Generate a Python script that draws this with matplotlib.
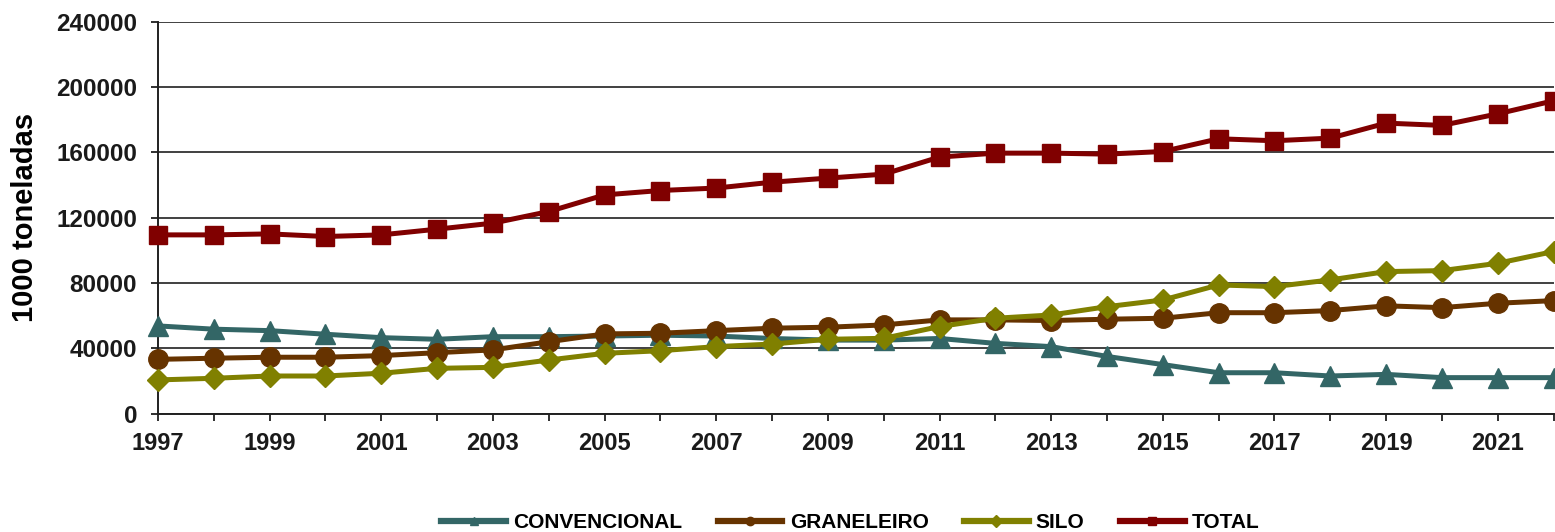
import matplotlib
matplotlib.use("Agg")
import matplotlib.pyplot as plt
from matplotlib.lines import Line2D

plt.rcParams['font.family'] = ['Liberation Sans', 'DejaVu Sans']
plt.rcParams['font.weight'] = 'bold'

anos = list(range(1997, 2023))

convencional = [53700, 51700, 50800, 48600, 46500, 45500, 47100, 47100, 47500, 48000,
                47500, 46000, 45000, 45000, 46000, 43000, 41000, 35000, 30000, 25000,
                25000, 23000, 24000, 22000, 22000, 22000]
graneleiro = [33200, 33900, 34500, 34500, 35500, 37300, 39000, 44000, 48800, 49200,
              50800, 52300, 52900, 54300, 57400, 57400, 57000, 57800, 58400, 61800,
              61800, 63100, 66000, 64900, 67600, 69200]
silo = [20600, 21600, 23000, 23000, 24700, 27700, 28300, 32800, 36900, 38500,
        41000, 42600, 45500, 46100, 53300, 58400, 60400, 65500, 69600, 78800,
        77800, 81900, 87000, 87600, 92100, 99300]
total = [109500, 109500, 110100, 108500, 109500, 113000, 116700, 123800, 134000, 136700,
         138200, 141800, 144300, 146700, 157200, 159600, 159600, 159000, 160600, 168400,
         167200, 168800, 178000, 176600, 183700, 191700]

series = [
    ("CONVENCIONAL", convencional, "#336666", "^", 14),
    ("GRANELEIRO", graneleiro, "#663300", "o", 14),
    ("SILO", silo, "#808000", "D", 11),
    ("TOTAL", total, "#800000", "s", 13),
]

fig = plt.figure(figsize=(15.55, 5.32), dpi=100)
ax = fig.add_axes([0.1016, 0.2227, 0.8975, 0.736])

for nome, valores, cor, mk, ms in series:
    ax.plot(anos, valores, color=cor, lw=3.6, marker=mk, markersize=ms,
            clip_on=False, zorder=3)

ax.set_xlim(1997, 2022)
ax.set_ylim(0, 240000)
ax.set_yticks(range(0, 240001, 40000))
ax.set_xticks(anos)
ax.set_xticklabels([str(a) if a % 2 == 1 else "" for a in anos])

ax.grid(axis='y', color='#404040', lw=1.4)
ax.set_axisbelow(True)
for s in ['top', 'right']:
    ax.spines[s].set_visible(False)
ax.spines['left'].set_color('#202020')
ax.spines['bottom'].set_color('#202020')
ax.spines['left'].set_linewidth(1.4)
ax.spines['bottom'].set_linewidth(1.4)
ax.tick_params(axis='both', direction='out', length=5, width=1.3,
               color='#202020', labelsize=17, labelcolor='#1a1a1a')
ax.tick_params(axis='y', labelsize=17.5, pad=10)
ax.tick_params(axis='x', pad=8)

ax.set_ylabel("1000 toneladas", fontsize=21, fontweight='bold', labelpad=12)

handles = [Line2D([0], [0], color=cor, lw=4.5, marker=mk, markersize=6)
           for nome, valores, cor, mk, ms in series]
labels = [nome for nome, valores, cor, mk, ms in series]
fig.legend(handles, labels, loc='lower center', bbox_to_anchor=(0.547, -0.036),
           ncol=4, frameon=False, fontsize=15, handlelength=3.1,
           columnspacing=1.7, handletextpad=0.35)

fig.savefig("out.png", dpi=100)
